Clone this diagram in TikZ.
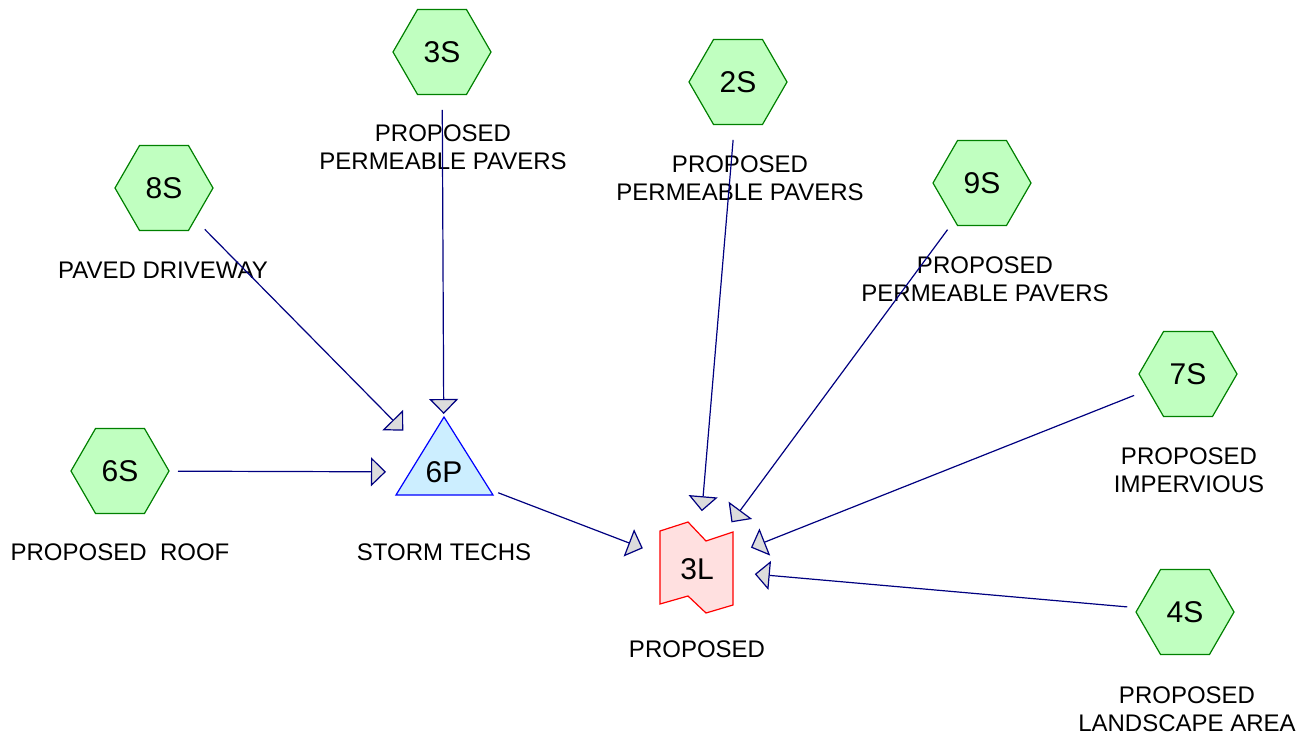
\documentclass[tikz,border=0pt]{standalone}
\usepackage{fontspec}
\setmainfont{Liberation Sans}
\usetikzlibrary{shapes.geometric,arrows.meta,backgrounds}
\definecolor{hexfill}{HTML}{C0FFC0}
\definecolor{hexline}{HTML}{008000}
\definecolor{trifill}{HTML}{CCEEFF}
\definecolor{triline}{HTML}{0000FF}
\definecolor{lakefill}{HTML}{FFE0E0}
\definecolor{lakeline}{HTML}{FF0000}
\definecolor{connline}{HTML}{000080}
\definecolor{tipfill}{HTML}{DCDCDC}
\tikzset{
  hexnode/.style={regular polygon, regular polygon sides=6, minimum size=98pt,
    inner sep=0pt, draw=hexline, fill=hexfill, line width=1.2pt,
    font=\fontsize{30}{30}\selectfont},
  idnode/.style={inner sep=0pt, font=\fontsize{30}{30}\selectfont},
  lbl/.style={inner sep=0pt, align=center, font=\fontsize{24}{28.5}\selectfont},
  conn/.style={draw=connline, line width=1.2pt, shorten <=58pt, shorten >=58pt,
    -{Triangle[length=15pt,width=29pt,fill=tipfill]}},
  trishape/.style={draw=triline, fill=trifill, line width=1.2pt, line join=miter},
  lakeshape/.style={draw=lakeline, fill=lakefill, line width=1.2pt, line join=miter},
}
\begin{document}
\begin{tikzpicture}[x=1pt,y=-1pt]
\useasboundingbox (0,0) rectangle (1314,738);
% subcatchments
\node[hexnode] (s3) at (442,52) {3S};
\node[hexnode] (s2) at (738,82) {2S};
\node[hexnode] (s8) at (164,188) {8S};
\node[hexnode] (s9) at (982,183) {9S};
\node[hexnode] (s7) at (1188,374) {7S};
\node[hexnode] (s6) at (120,471) {6S};
\node[hexnode] (s4) at (1185,612) {4S};
% pond and link
\node[idnode] (p6) at (444,472) {6P};
\node[idnode] (l3) at (697,569) {3L};
\begin{scope}[on background layer]
  \draw[trishape, shift={(p6.center)}] (0,-55) -- (49,23) -- (-48,23) -- cycle;
  \draw[lakeshape, shift={(l3.center)}] (-37,-38) -- (-9,-47) -- (9,-28) -- (36,-37)
    -- (36,36) -- (9,44) -- (-9,27) -- (-37,35) -- cycle;
\end{scope}
% labels
\node[lbl] (t3) at (443,147) {PROPOSED\\PERMEABLE PAVERS};
\node[lbl] (t2) at (740,178) {PROPOSED\\PERMEABLE PAVERS};
\node[lbl] (t8) at (163,270) {PAVED DRIVEWAY};
\node[lbl] (t9) at (985,279) {PROPOSED\\PERMEABLE PAVERS};
\node[lbl] (t7) at (1189,470) {PROPOSED\\IMPERVIOUS};
\node[lbl] (t6) at (120,552) {PROPOSED\ \ ROOF};
\node[lbl] (tp) at (444,552) {STORM TECHS};
\node[lbl] (tl) at (697,649) {PROPOSED};
\node[lbl] (t4) at (1187,709) {PROPOSED\\LANDSCAPE AREA};
% connectors
\draw[conn] (s3.center) -- (p6.center);
\draw[conn] (s8.center) -- (p6.center);
\draw[conn] (s6.center) -- (p6.center);
\draw[conn] (p6.center) -- (l3.center);
\draw[conn] (s2.center) -- (l3.center);
\draw[conn] (s9.center) -- (l3.center);
\draw[conn] (s7.center) -- (l3.center);
\draw[conn] (s4.center) -- (l3.center);
\end{tikzpicture}
\end{document}
